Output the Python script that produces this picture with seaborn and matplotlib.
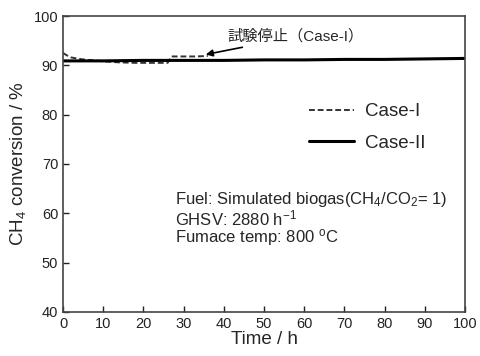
import pandas as pd
import matplotlib
matplotlib.use("Agg")
import matplotlib.pyplot as plt
from matplotlib.lines import Line2D
import seaborn as sns

# Case-I (stopped around 36 h)
case1_time = [0, 1, 2, 4, 6, 8, 10, 14, 18, 22, 26, 27, 30, 33, 36]
case1_conv = [92.5, 92.0, 91.6, 91.3, 91.1, 91.0, 90.8, 90.6, 90.5, 90.5, 90.5, 91.8, 91.8, 91.8, 91.9]

# Case-II (full 100 h)
case2_time = [0, 10, 20, 30, 40, 50, 60, 70, 80, 90, 100]
case2_conv = [90.9, 90.9, 91.0, 91.0, 91.0, 91.1, 91.1, 91.2, 91.2, 91.3, 91.4]

x_ticks = [0, 10, 20, 30, 40, 50, 60, 70, 80, 90, 100]
y_ticks = [40, 50, 60, 70, 80, 90, 100]

conditions = ["Fuel: Simulated biogas(CH$_4$/CO$_2$= 1)",
              "GHSV: 2880 h$^{-1}$",
              "Fumace temp: 800 $^o$C"]

df = pd.concat([
    pd.DataFrame({"time": case1_time, "conv": case1_conv, "case": "Case-I"}),
    pd.DataFrame({"time": case2_time, "conv": case2_conv, "case": "Case-II"}),
])

sns.set_theme(style="ticks")
plt.rcParams["font.family"] = ["Liberation Sans", "Noto Sans CJK JP", "DejaVu Sans"]
plt.rcParams["mathtext.default"] = "regular"

fig = plt.figure(figsize=(4.81, 3.56), dpi=100)
ax = fig.add_axes([0.131, 0.124, 0.836, 0.831])

sns.lineplot(data=df, x="time", y="conv", hue="case", style="case",
             palette={"Case-I": "#333333", "Case-II": "black"},
             dashes={"Case-I": (3, 1.5), "Case-II": ""},
             size="case", sizes={"Case-I": 1.4, "Case-II": 2.2},
             ax=ax, legend=False)

ax.set_xlim(0, 100)
ax.set_ylim(40, 100)
ax.set_xticks(x_ticks)
ax.set_yticks(y_ticks)
ax.tick_params(direction="in", length=4, width=1, labelsize=10.5, colors="#222222")
for s in ax.spines.values():
    s.set_color("#444444")
    s.set_linewidth(1.2)

ax.set_xlabel("Time / h", fontsize=13.5, labelpad=0)
ax.set_ylabel("CH$_4$ conversion / %", fontsize=13.5, labelpad=4)

handles = [Line2D([], [], color="#333333", lw=1.4, dashes=(3, 1.5)),
           Line2D([], [], color="black", lw=2.2)]
ax.legend(handles, ["Case-I", "Case-II"], frameon=False, fontsize=13.5,
          loc="upper left", bbox_to_anchor=(0.57, 0.762), handlelength=2.4,
          handletextpad=0.6, labelspacing=0.75)

ax.annotate("試験停止（Case-I）", xy=(35.5, 92.2), xytext=(41, 95.8),
            fontsize=11, va="center", ha="left",
            arrowprops=dict(arrowstyle="-|>", color="black", lw=1.2,
                            shrinkA=0, shrinkB=0, mutation_scale=10))

for i, line in enumerate(conditions):
    ax.text(27.8, [62.7, 59.0, 55.0][i], line, fontsize=12, va="center", ha="left")

fig.savefig("out.png", dpi=100)
